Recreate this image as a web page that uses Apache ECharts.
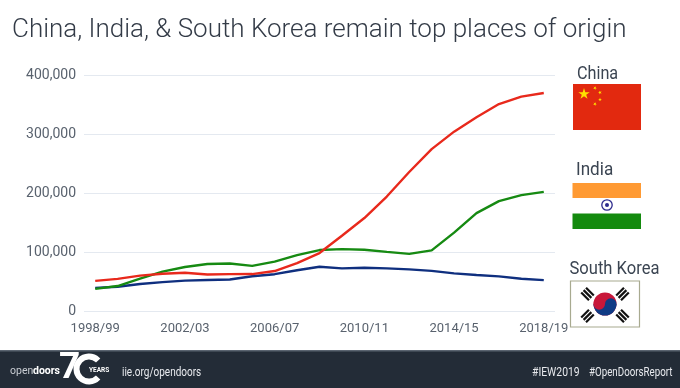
<!DOCTYPE html>
<html><head><meta charset="utf-8">
<style>html,body{margin:0;padding:0;background:#fff}#c{width:680px;height:388px}</style>
<script src="https://cdn.jsdelivr.net/npm/echarts@6/dist/echarts.min.js"></script>
</head><body><div id="c"></div>
<script>
const years = ['1998/99','1999/00','2000/01','2001/02','2002/03','2003/04','2004/05','2005/06','2006/07','2007/08','2008/09','2009/10','2010/11','2011/12','2012/13','2013/14','2014/15','2015/16','2016/17','2017/18','2018/19'];
const china = [51000,54500,60000,63200,64800,61800,62500,62600,67700,81100,98200,127600,157600,194000,235600,274400,304000,328500,350800,363300,369500];
const india = [37500,42300,54700,66800,74600,79700,80500,76500,83800,94600,103300,104900,103900,100300,96800,102700,132900,165900,186300,196300,202000];
const korea = [39200,41200,45700,49000,51500,52500,53400,58800,62400,69100,75100,72200,73400,72300,70600,68000,63700,61000,58700,54600,52300];
const yTicks = [0,100000,200000,300000,400000];
const FONT = 'Roboto, sans-serif';
const chart = echarts.init(document.getElementById('c'), null, {renderer:'canvas'});
function star(cx,cy,r,rot){const p=[];for(let i=0;i<10;i++){const a=rot+i*Math.PI/5-Math.PI/2,q=i%2?r*0.382:r;p.push([cx+q*Math.cos(a),cy+q*Math.sin(a)]);}return {type:'polygon',z:5,shape:{points:p},style:{fill:'#ffe000'}};}
function rect(x,y,w,h,fill,extra){return Object.assign({type:'rect',z:4,shape:{x,y,width:w,height:h},style:{fill}},extra||{});}
function text(x,y,t,size,fill,opts){opts=opts||{};return {type:'text',z:6,x,y,scaleX:opts.sx||1,style:{text:t,font:`${opts.weight||400} ${size}px ${FONT}`,fill,textAlign:opts.align||'left',textVerticalAlign:'middle'}};}
function bars(cx,cy,ang){const g=[];for(const o of [-3.4,0,3.4]){g.push({type:'rect',z:6,x:cx,y:cy,rotation:ang,shape:{x:-5.5,y:o-1.1,width:11,height:2.2},style:{fill:'#111'}});}return g;}
const tc={x:605,y:304,r:11.5};
const graphic = [
  rect(0,351,680,37,'#232c37'),
  rect(0,350,680,1.5,'#5a6470'),
  text(10,371,'open',10.5,'#c8ccd2'),
  text(33,371,'doors',10.5,'#ffffff',{weight:700}),
  text(59,369,'7',37,'#ffffff',{weight:700}),
  {type:'arc',z:6,shape:{cx:89,cy:369,r:12.5,startAngle:0.75,endAngle:-0.75,clockwise:true},style:{stroke:'#fff',lineWidth:6,fill:null}},
  text(89,370,'YEARS',6.5,'#ffffff',{weight:700}),
  text(122,373,'iie.org/opendoors',12.5,'#e8eaee',{sx:0.8}),
  text(532,373,'#IEW2019',12.5,'#e8eaee',{sx:0.83}),
  text(589,373,'#OpenDoorsReport',12.5,'#e8eaee',{sx:0.78}),
  text(577,74,'China',18,'#3b4552',{sx:0.9}),
  text(576,170,'India',18,'#3b4552',{sx:0.95}),
  text(569.5,269,'South Korea',18,'#3b4552',{sx:0.92}),
  rect(573,84,68,46,'#e2290f'),
  star(584,94,6,0), star(595,88,2,0.5), star(600,92.5,2,0.9), star(600,99.5,2,0), star(595,104,2,0.5),
  rect(572.5,183,68.5,15,'#ff9a33'),
  rect(572.5,213.5,68.5,15.5,'#148a0e'),
  {type:'circle',z:5,shape:{cx:607,cy:205,r:5.2},style:{fill:'#fff',stroke:'#2c2a8c',lineWidth:1.3}},
  {type:'circle',z:5,shape:{cx:607,cy:205,r:2},style:{fill:'#2c2a8c'}},
  rect(570.5,281,69,46,'#ffffff',{style:{fill:'#fff',stroke:'#a8aa90',lineWidth:1.2}}),
  {type:'circle',z:5,shape:{cx:tc.x,cy:tc.y,r:tc.r},style:{fill:'#c8173a'}},
  {type:'sector',z:5,shape:{cx:tc.x,cy:tc.y,r0:0,r:tc.r,startAngle:0,endAngle:Math.PI,clockwise:true},style:{fill:'#0f3b85'}},
  {type:'circle',z:5,shape:{cx:tc.x+5.75,cy:tc.y,r:5.75},style:{fill:'#0f3b85'}},
  {type:'circle',z:5,shape:{cx:tc.x-5.75,cy:tc.y,r:5.75},style:{fill:'#c8173a'}},
  ...bars(587.5,294,-Math.PI/4), ...bars(622.5,294,Math.PI/4), ...bars(587.5,316,Math.PI/4), ...bars(622.5,316,-Math.PI/4)
];
chart.setOption({
  animation:false,
  backgroundColor:'#fff',
  title:{text:'China, India, & South Korea remain top places of origin',left:12,top:17,padding:0,textStyle:{fontFamily:FONT,fontWeight:300,fontSize:26,color:'#333b47'}},
  grid:{left:84,right:125,top:75,bottom:77,containLabel:false},
  xAxis:{type:'category',data:years,boundaryGap:true,axisLine:{show:false},axisTick:{show:false},
    axisLabel:{interval:3,hideOverlap:false,color:'#59626e',fontFamily:FONT,fontSize:13,margin:11}},
  yAxis:{type:'value',min:0,max:400000,interval:100000,axisLine:{show:false},axisTick:{show:false},
    splitLine:{lineStyle:{color:'#e4e9f0',width:1}},
    axisLabel:{color:'#59626e',fontFamily:FONT,fontSize:14,margin:8,
      formatter:v=>yTicks.includes(v)?v.toLocaleString('en-US'):''}},
  series:[
    {name:'South Korea',type:'line',data:korea,symbol:'none',lineStyle:{color:'#0f2f7f',width:2.4}},
    {name:'India',type:'line',data:india,symbol:'none',lineStyle:{color:'#168a12',width:2.4}},
    {name:'China',type:'line',data:china,symbol:'none',lineStyle:{color:'#e8291c',width:2.4}}
  ],
  graphic
});
</script></body></html>
